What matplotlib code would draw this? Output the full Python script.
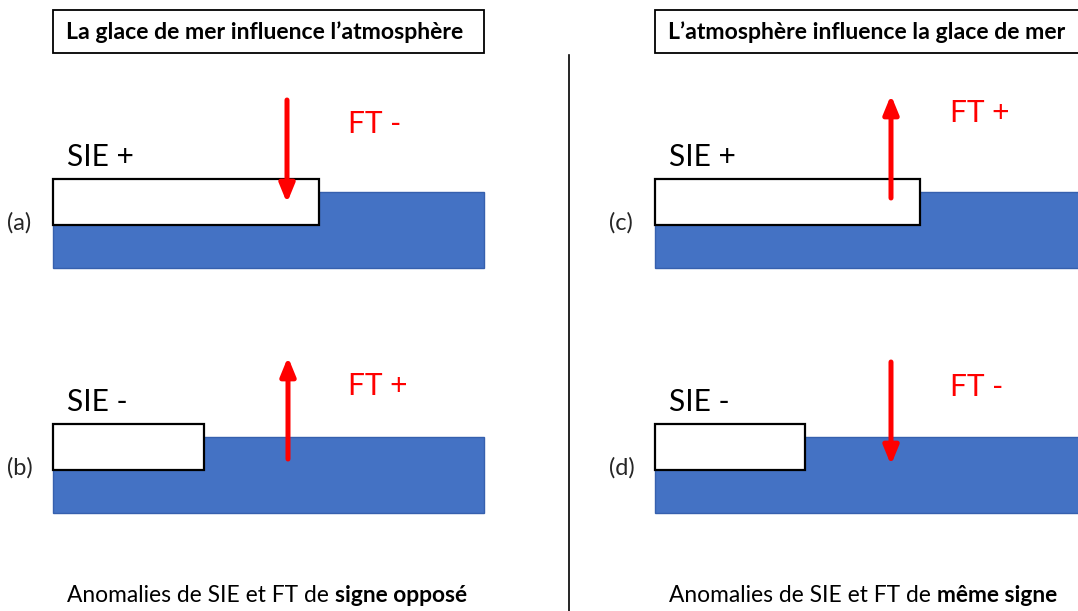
import matplotlib.pyplot as plt
from matplotlib.patches import Rectangle

plt.rcParams['font.family'] = ['Lato', 'DejaVu Sans']

# panels: (a) (b) left, (c) (d) right
labels = ['(a)', '(b)', '(c)', '(d)']
sie_txt = ['SIE +', 'SIE -', 'SIE +', 'SIE -']
ft_txt = ['FT -', 'FT +', 'FT +', 'FT -']
titles = ["La glace de mer influence l\u2019atmosph\u00e8re",
          "L\u2019atmosph\u00e8re influence la glace de mer"]
captions = [("Anomalies de SIE et FT de ", "signe oppos\u00e9"),
            ("Anomalies de SIE et FT de ", "m\u00eame signe")]

# layout in pixels (y downward)
col_x = [53, 53, 655, 655]
ocean_top = [192, 437, 192, 437]
ice_w = [266, 151, 265, 150]
ft_y = [124, 386, 113, 387]
arrow_x = [287, 288, 891, 891]
arrow_from = [100, 459, 198, 362]
arrow_to = [203, 357, 95, 465]

fig = plt.figure(figsize=(10.78, 6.11), dpi=100)
ax = fig.add_axes([0, 0, 1, 1])
ax.set_xlim(0, 1078)
ax.set_ylim(611, 0)
ax.axis('off')

blue = '#4472C4'

for i in range(4):
    x0 = col_x[i]
    y0 = ocean_top[i]
    ax.add_patch(Rectangle((x0, y0), 431, 76, facecolor=blue,
                           edgecolor='#3660ae', lw=1, zorder=1))
    ax.add_patch(Rectangle((x0, y0 - 13), ice_w[i], 46, facecolor='white',
                           edgecolor='black', lw=1.6, zorder=2))
    ax.text(x0 + 14, y0 - 35, sie_txt[i], fontsize=21.5, va='center', ha='left')
    ax.text(x0 - 46, y0 + 31, labels[i], fontsize=17, va='center', ha='left',
            color='#262626')
    ax.text(x0 + 295, ft_y[i], ft_txt[i], fontsize=21.5, color='red',
            va='center', ha='left')
    ax.annotate('', xy=(arrow_x[i], arrow_to[i]), xytext=(arrow_x[i], arrow_from[i]),
                arrowprops=dict(arrowstyle='-|>,head_length=1.1,head_width=0.45',
                                color='red', lw=3.6, shrinkA=0, shrinkB=0),
                zorder=3)

# title boxes
box_x = [53, 655]
for j in range(2):
    ax.add_patch(Rectangle((box_x[j], 10), 431, 43, facecolor='white',
                           edgecolor='black', lw=1.3, zorder=2))
    ax.text(box_x[j] + 13, 32, titles[j], fontsize=16.6, fontweight='bold',
            va='center', ha='left', zorder=3)

# captions, regular + bold part
fig.canvas.draw()
for j in range(2):
    t1 = ax.text(box_x[j] + 14, 595, captions[j][0], fontsize=16.4,
                 va='center', ha='left')
    fig.canvas.draw()
    bb = t1.get_window_extent()
    x_end = ax.transData.inverted().transform((bb.x1, bb.y0))[0]
    ax.text(x_end, 595, captions[j][1], fontsize=16.4, fontweight='bold',
            va='center', ha='left')

# divider
ax.plot([569, 569], [55, 611], color='black', lw=1.2)

fig.savefig('out.png', dpi=100)
